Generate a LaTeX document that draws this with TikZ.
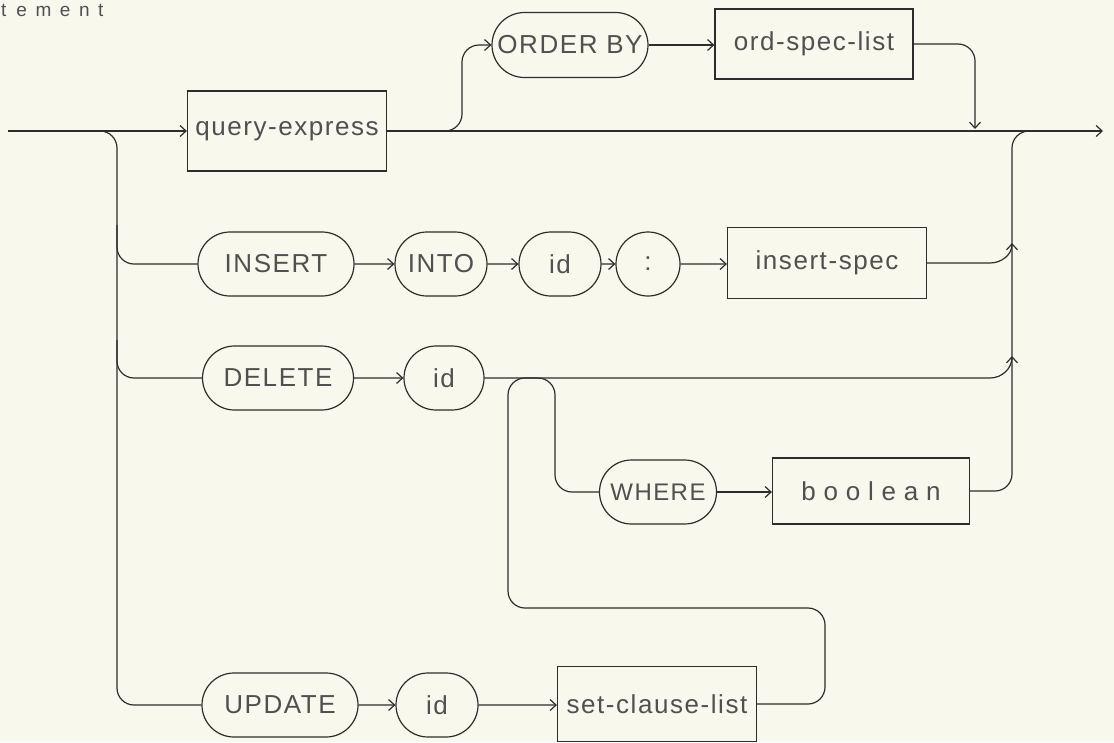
\documentclass[tikz,border=0pt]{standalone}
\usepackage{fontspec}
\setmainfont{Liberation Sans}
\newfontfamily\pf[LetterSpace=6]{Liberation Sans}
\newfontfamily\wf[LetterSpace=30]{Liberation Sans}
\newfontfamily\tf[LetterSpace=45]{Liberation Sans}
\usetikzlibrary{shapes.misc,arrows.meta}
\definecolor{paper}{RGB}{249,248,237}
\definecolor{ink}{RGB}{45,45,45}
\definecolor{txt}{RGB}{80,80,80}
\begin{document}
\begin{tikzpicture}[x=1pt,y=-1pt,
  line/.style={draw=ink,line width=1.2pt},
  arr/.style={line,-{Straight Barb[length=6pt,width=11pt]}},
  term/.style={rounded rectangle, draw=ink, line width=1.2pt, inner sep=0pt,
    minimum height=64pt, font=\pf\fontsize{26}{28}\selectfont, text=txt},
  nterm/.style={rectangle, draw=ink, line width=1.2pt, inner sep=0pt,
    font=\pf\fontsize{26}{28}\selectfont, text=txt},
  curvy/.style={rounded corners=17pt}
]
\fill[paper] (0,0) rectangle (1114,742);
\useasboundingbox (0,0) rectangle (1114,742);
\clip (0,0) rectangle (1114,742);

% title (cut off at the left edge in the reference)
\node[anchor=base west, inner sep=0pt, text=txt, font=\tf\fontsize{19}{20}\selectfont] (title) at (1,16) {t\hspace{10pt}ement};

% nodes
\node[nterm, minimum width=199pt, minimum height=80pt] (query) at (287,131) {query-express};
\node[term, minimum width=156pt, minimum height=65pt] (orderby) at (570,45) {ORDER BY};
\node[nterm, minimum width=198pt, minimum height=70pt] (ordspec) at (814,44) {ord-spec-list};

\node[term, minimum width=156pt] (insert) at (276,264) {INSERT};
\node[term, minimum width=92pt] (into) at (441,264) {INTO};
\node[term, minimum width=82pt] (idA) at (560,264) {id};
\node[term, minimum width=60pt] (colon) at (648,264) {:};
\node[nterm, minimum width=199pt, minimum height=71pt] (inspec) at (827,263) {insert-spec};

\node[term, minimum width=151pt] (delete) at (278,378) {DELETE};
\node[term, minimum width=80pt] (idB) at (444,378) {id};
\node[term, minimum width=117pt, font=\pf\fontsize{24}{26}\selectfont] (where) at (658,492) {WHERE};
\node[nterm, minimum width=197pt, minimum height=66pt, font=\wf\fontsize{26}{28}\selectfont] (bool) at (871,491) {boolean};

\node[term, minimum width=156pt] (update) at (280,705) {UPDATE};
\node[term, minimum width=82pt] (idC) at (437,705) {id};
\node[nterm, minimum width=199pt, minimum height=75pt] (setcl) at (657,704) {set-clause-list};

% junction points
\coordinate (start) at (8,131);
\coordinate (finish) at (1103,131);
\coordinate (obsplit) at (428,131);
\coordinate (ordin) at (975,129);
\coordinate (lsplit) at (90,131);
\coordinate (rjoin) at (1040,131);
\coordinate (insjoin) at (1012,243);
\coordinate (deljoin) at (1012,356);
\coordinate (hump) at (533,378);

% main line
\draw[arr] (start) -- (query.west);
\draw[arr] (query.east) -- (finish);

% ORDER BY option
\draw[arr, curvy] (obsplit) -| (462,45) -- (orderby.west);
\draw[arr] (orderby.east) -- (ordspec.west |- orderby.east);
\draw[arr, curvy] (ordspec.east) -| (ordin);

% left distributor
\draw[line, curvy] (lsplit) -| (117,705) -- (update.west);
\draw[line, curvy] (117,225) |- (insert.west);
\draw[line, curvy] (117,340) |- (delete.west);

% INSERT row
\draw[arr] (insert) -- (into);
\draw[arr] (into) -- (idA);
\draw[arr] (idA) -- (colon);
\draw[arr] (colon) -- (colon.east -| inspec.west);
\draw[arr] (inspec.east) -- (990,263) to[out=0,in=-90] (insjoin);

% DELETE row
\draw[arr] (delete) -- (idB);
\draw[arr] (idB.east) -- (990,378) to[out=0,in=-90] (deljoin);
\draw[line, curvy] (hump) -| (555,492) -- (where.west);
\draw[arr] (where.east) -- (bool.west |- where.east);

% right collector
\draw[line, curvy] (bool.east) -| (1012,131) -- (rjoin);

% UPDATE row
\draw[arr] (update) -- (idC);
\draw[arr] (idC) -- (idC.east -| setcl.west);
\draw[line, curvy] (setcl.east) -| (825,608) -| (508,378) -- (hump);
\end{tikzpicture}
\end{document}
